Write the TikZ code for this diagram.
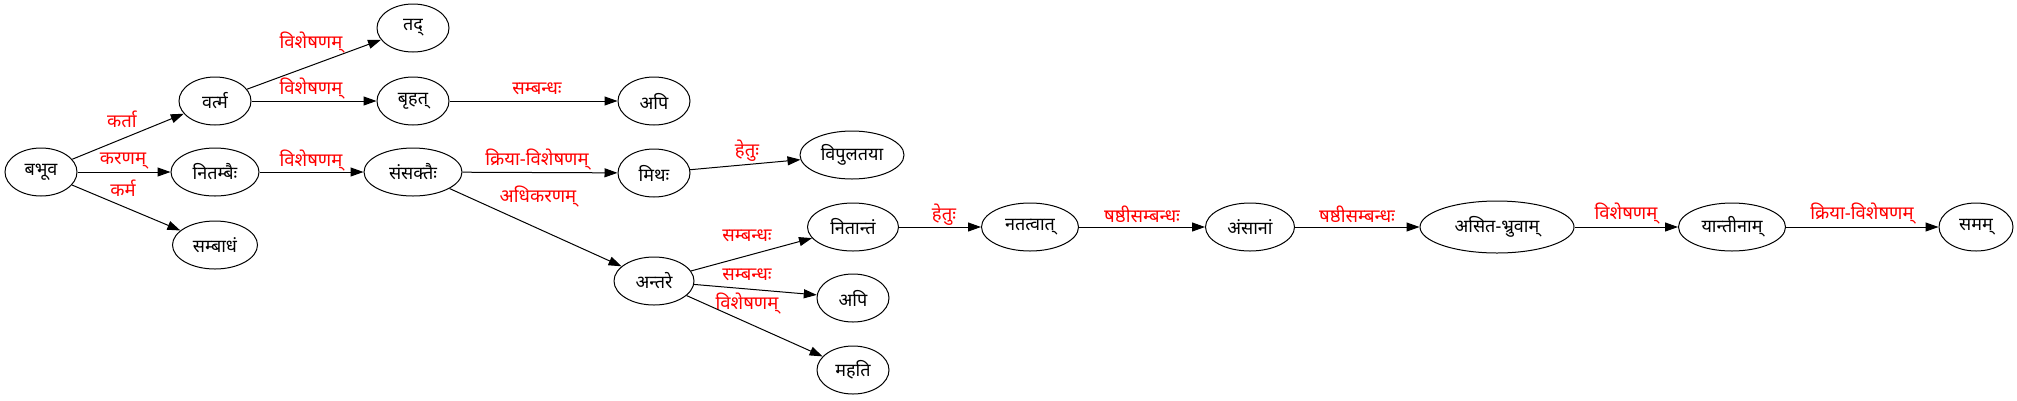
\documentclass[tikz,border=0pt]{standalone}
\usepackage{fontspec}
\setmainfont{Noto Sans}[Script=Devanagari]
\usetikzlibrary{shapes.geometric,arrows.meta}
\begin{document}
\begin{tikzpicture}[x=1pt,y=-1pt,
  word/.style={ellipse,draw=black,line width=1pt,inner sep=0pt,minimum height=48pt,font=\fontsize{18}{20}\selectfont,text=black},
  edge/.style={draw=black,line width=1pt,-{Triangle[length=13pt,width=9pt]}},
  lbl/.style={text=red,font=\fontsize{18.5}{21}\selectfont,inner sep=0pt}]
\useasboundingbox (0,0) rectangle (2017,400);
\fill[white] (0,0) rectangle (2017,400);
% nodes
\node[word,minimum width=72pt] (n1) at (41,172) {बभूव};
\node[word,minimum width=72pt] (n2) at (215,101) {वर्त्म};
\node[word,minimum width=88pt] (n3) at (215,172) {नितम्बैः};
\node[word,minimum width=85pt] (n4) at (215,245) {सम्बाधं};
\node[word,minimum width=72pt] (n5) at (413,28) {तद्};
\node[word,minimum width=72pt] (n6) at (413,101) {बृहत्};
\node[word,minimum width=98pt] (n7) at (413,172) {संसक्तैः};
\node[word,minimum width=72pt] (n8) at (654,101) {अपि};
\node[word,minimum width=72pt] (n9) at (654,173) {मिथः};
\node[word,minimum width=80pt] (n10) at (654,281) {अन्तरे};
\node[word,minimum width=104pt] (n11) at (852,155) {विपुलतया};
\node[word,minimum width=91pt] (n12) at (853,227) {नितान्तं};
\node[word,minimum width=72pt] (n13) at (853,298) {अपि};
\node[word,minimum width=72pt] (n14) at (853,370) {महति};
\node[word,minimum width=97pt] (n15) at (1030,227) {नतत्वात्};
\node[word,minimum width=89pt] (n16) at (1250,227) {अंसानां};
\node[word,minimum width=154pt,minimum height=52pt] (n17) at (1497,227) {असित-भ्रुवाम्};
\node[word,minimum width=107pt] (n18) at (1732,227) {यान्तीनाम्};
\node[word,minimum width=74pt] (n19) at (1976,227) {समम्};
% edges
\draw[edge] (n1) -- (n2);
\draw[edge] (n1) -- (n3);
\draw[edge] (n1) -- (n4);
\draw[edge] (n2) -- (n5);
\draw[edge] (n2) -- (n6);
\draw[edge] (n3) -- (n7);
\draw[edge] (n6) -- (n8);
\draw[edge] (n7) -- (n9);
\draw[edge] (n7) -- (n10);
\draw[edge] (n9) -- (n11);
\draw[edge] (n10) -- (n12);
\draw[edge] (n10) -- (n13);
\draw[edge] (n10) -- (n14);
\draw[edge] (n12) -- (n15);
\draw[edge] (n15) -- (n16);
\draw[edge] (n16) -- (n17);
\draw[edge] (n17) -- (n18);
\draw[edge] (n18) -- (n19);
% edge labels
\node[lbl] (l1) at (122,119) {कर्ता};
\node[lbl] (l2) at (123,161) {करणम्};
\node[lbl] (l3) at (123,188) {कर्म};
\node[lbl] (l4) at (311,43) {विशेषणम्};
\node[lbl] (l5) at (311,89) {विशेषणम्};
\node[lbl] (l6) at (311,161) {विशेषणम्};
\node[lbl] (l7) at (537,89) {सम्बन्धः};
\node[lbl] (l8) at (537,160) {क्रिया-विशेषणम्};
\node[lbl] (l9) at (538,197) {अधिकरणम्};
\node[lbl] (l10) at (747,151) {हेतुः};
\node[lbl] (l11) at (747,236) {सम्बन्धः};
\node[lbl] (l12) at (747,275) {सम्बन्धः};
\node[lbl] (l13) at (747,304) {विशेषणम्};
\node[lbl] (l14) at (944,215) {हेतुः};
\node[lbl] (l15) at (1142,214) {षष्ठीसम्बन्धः};
\node[lbl] (l16) at (1357,214) {षष्ठीसम्बन्धः};
\node[lbl] (l17) at (1626,214) {विशेषणम्};
\node[lbl] (l18) at (1862,214) {क्रिया-विशेषणम्};
\end{tikzpicture}
\end{document}
